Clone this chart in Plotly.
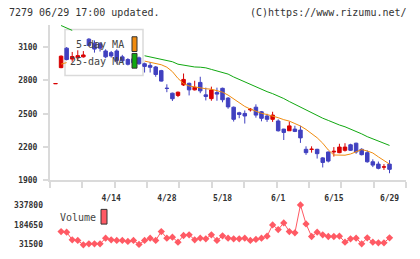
import plotly.graph_objects as go

# ---------------- data ----------------
dates = ["3/31", "4/1", "4/2", "4/3", "4/6", "4/7", "4/8", "4/9", "4/10", "4/13",
         "4/14", "4/15", "4/16", "4/17", "4/20", "4/21", "4/22", "4/23", "4/24", "4/27",
         "4/28", "4/30", "5/1", "5/7", "5/8", "5/11", "5/12", "5/13", "5/14", "5/15",
         "5/18", "5/19", "5/20", "5/21", "5/22", "5/25", "5/26", "5/27", "5/28", "5/29",
         "6/1", "6/2", "6/3", "6/4", "6/5", "6/8", "6/9", "6/10", "6/11", "6/12",
         "6/15", "6/16", "6/17", "6/18", "6/19", "6/22", "6/23", "6/24", "6/25", "6/26",
         "6/29"]

opens = [2770, 2915, 3090, 2992, 3003, 3012, 3171, 3135, 3130, 3065,
         3050, 3065, 3012, 2988, 2994, 3003, 2950, 2935, 2921, 2888,
         2730, 2685, 2665, 2759, 2774, 2715, 2782, 2670, 2636, 2691,
         2729, 2641, 2559, 2509, 2503, 2535, 2559, 2518, 2480, 2450,
         2435, 2362, 2347, 2362, 2353, 2180, 2179, 2180, 2103, 2156,
         2156, 2150, 2171, 2221, 2235, 2180, 2150, 2068, 2047, 2020,
         2047]
highs = [2772, 3025, 3100, 3056, 3071, 3064, 3180, 3160, 3145, 3080,
         3065, 3080, 3030, 3000, 3010, 3015, 2960, 2965, 2930, 2895,
         2765, 2690, 2700, 2862, 2780, 2797, 2833, 2735, 2744, 2735,
         2735, 2650, 2565, 2518, 2530, 2552, 2585, 2525, 2500, 2518,
         2450, 2365, 2430, 2392, 2392, 2207, 2207, 2185, 2110, 2160,
         2200, 2230, 2235, 2230, 2240, 2190, 2170, 2090, 2070, 2047,
         2083]
lows = [2770, 2910, 2980, 2968, 2983, 3005, 3105, 3050, 3060, 3000,
        3005, 2950, 2965, 2935, 2950, 2940, 2871, 2871, 2833, 2790,
        2694, 2615, 2650, 2750, 2665, 2710, 2685, 2620, 2617, 2617,
        2603, 2545, 2430, 2460, 2412, 2520, 2465, 2432, 2427, 2427,
        2340, 2264, 2345, 2335, 2238, 2130, 2150, 2097, 2017, 2062,
        2115, 2145, 2160, 2165, 2140, 2125, 2060, 2020, 2000, 1995,
        1965]
closes = [2772, 3018, 2988, 3015, 3023, 3029, 3115, 3082, 3090, 3012,
          3020, 2980, 2976, 2945, 2959, 2950, 2926, 2918, 2853, 2794,
          2728, 2635, 2694, 2809, 2715, 2738, 2706, 2656, 2714, 2677,
          2626, 2562, 2450, 2494, 2480, 2540, 2488, 2459, 2450, 2488,
          2347, 2332, 2391, 2341, 2283, 2150, 2181, 2141, 2062, 2074,
          2162, 2200, 2200, 2171, 2156, 2132, 2068, 2038, 2009, 2022,
          2000]

# moving averages (None where hidden behind the legend box)
ma5 = [None, 2947, 2960, None, None, None, None, None, None, None,
       None, None, None, None, None, None, 2974, 2963, 2952, 2941,
       2919, 2879, 2818, 2772, 2750, 2740, 2731, 2725, 2721, 2707,
       2694, 2668, 2632, 2602, 2566, 2542, 2522, 2504, 2493, 2482,
       2465, 2447, 2434, 2412, 2390, 2359, 2324, 2284, 2235, 2174,
       2129, 2127, 2127, 2138, 2160, 2178, 2165, 2147, 2112, 2081,
       2047]
ma25 = [None, 3294, 3272, 3250, None, None, None, None, None, None,
        None, None, None, None, None, None, 3022, 3012, 2999, 2990,
        2981, 2968, 2946, 2937, 2928, 2921, 2919, 2913, 2899, 2886,
        2871, 2857, 2831, 2809, 2782, 2760, 2740, 2721, 2699, 2681,
        2661, 2637, 2610, 2584, 2562, 2535, 2511, 2487, 2460, 2440,
        2418, 2399, 2383, 2363, 2341, 2319, 2294, 2275, 2253, 2235,
        2215]

volume = [None, 131900, 127000, 67500, 62400, 28900, 36600, 36600, 36600, 80400,
          67500, 62400, 62400, 54700, 62400, 31500, 62400, 80400, 62400, 131900,
          80400, 88100, 49500, 101000, 106100, 67500, 80400, 75300, 106100, 62400,
          98400, 80400, 75300, 75300, 80400, 62400, 70100, 80400, 95800, 183400,
          147300, 198800, 131900, 121600, 337800, 191100, 93300, 126700, 106100, 93300,
          93300, 95800, 49500, 75300, 80400, 36600, 83000, 49500, 44400, 44400,
          83000]

price_ticks = [1900, 2200, 2500, 2800, 3100]
volume_ticks = [31500, 184650, 337800]
date_labels = ["4/14", "4/28", "5/18", "6/1", "6/15", "6/29"]

# ---------------- styling ----------------
RED = "#d80000"
BLUE = "#4040c0"
ORANGE = "#f08c10"
GREEN = "#10a810"
VOLC = "#ff5a64"
AX = "#dadada"
W, H = 420, 259

idx = list(range(len(dates)))
tickvals = [dates.index(d) for d in date_labels]

x0, x1 = -0.99, 62.96
minor_ticks = [x0 + k * (x1 - x0) / 11 for k in range(12)]
xdom = [50 / W, 406 / W]

tfont = dict(family="DejaVu Sans Mono", size=8, color="#333333", weight="bold")

fig = go.Figure()
fig.add_trace(go.Scatter(x=idx, y=ma25, mode="lines", line=dict(color=GREEN, width=1),
                         connectgaps=False, hoverinfo="skip", showlegend=False))
fig.add_trace(go.Scatter(x=idx, y=ma5, mode="lines", line=dict(color=ORANGE, width=1),
                         connectgaps=False, hoverinfo="skip", showlegend=False))
fig.add_trace(go.Candlestick(
    x=idx, open=opens, high=highs, low=lows, close=closes,
    increasing=dict(line=dict(color=RED, width=1), fillcolor=RED),
    decreasing=dict(line=dict(color=BLUE, width=1), fillcolor=BLUE),
    whiskerwidth=0, showlegend=False))
fig.add_trace(go.Scatter(x=idx, y=volume, mode="lines+markers", xaxis="x2", yaxis="y2",
                         line=dict(color=VOLC, width=1),
                         marker=dict(symbol="diamond", size=5.6, color=VOLC),
                         showlegend=False))

fig.update_layout(
    width=W, height=259, margin=dict(l=0, r=0, t=0, b=0),
    paper_bgcolor="white", plot_bgcolor="white", showlegend=False, boxgap=0.1,
    xaxis=dict(domain=xdom, range=[x0, x1], anchor="y",
               tickmode="array", tickvals=tickvals, ticktext=date_labels,
               ticks="outside", ticklen=0, tickcolor=AX,
               showgrid=False, zeroline=False, showline=True, linecolor=AX, linewidth=2,
               rangeslider=dict(visible=False), tickfont=tfont, ticklabelstandoff=9,
               minor=dict(tickmode="array", tickvals=minor_ticks, ticks="outside",
                          ticklen=6, tickcolor=AX, tickwidth=2, showgrid=False)),
    yaxis=dict(domain=[1 - 184 / H, 1 - 25 / H], range=[1900, 3303], anchor="x",
               tickmode="array", tickvals=price_ticks, ticks="outside", ticklen=5,
               tickcolor=AX, tickwidth=2, showline=True, linecolor=AX, linewidth=2,
               showgrid=False, zeroline=False, tickfont=tfont, ticklabelstandoff=4),
    xaxis2=dict(domain=xdom, range=[x0, x1], anchor="y2", showticklabels=False,
                showline=False, showgrid=False, zeroline=False, ticks=""),
    yaxis2=dict(domain=[1 - 254 / H, 1 - 205 / H], range=[-4500, 368400], anchor="x2",
                tickmode="array", tickvals=volume_ticks,
                ticktext=[str(v) for v in volume_ticks], ticks="", showline=False,
                showgrid=False, zeroline=False, tickfont=tfont, ticklabelstandoff=6),
)

hfont = dict(family="DejaVu Sans Mono", size=10, color="#333333")
lfont = dict(family="DejaVu Sans Mono", size=10, color="#444444")
anns = [
    dict(text="7279 06/29 17:00 updated.", x=7 / W, y=1 - 13 / H, xanchor="left", yanchor="middle", font=hfont),
    dict(text="(C)https://www.rizumu.net/", x=409 / W, y=1 - 13 / H, xanchor="right", yanchor="middle", font=hfont),
    dict(text="5-day MA", x=126 / W, y=1 - 45 / H, xanchor="right", yanchor="middle", font=lfont),
    dict(text="25-day MA", x=126 / W, y=1 - 63 / H, xanchor="right", yanchor="middle", font=lfont),
    dict(text="Volume", x=58 / W, y=1 - 222 / H, xanchor="left", yanchor="middle", font=lfont),
]
for a in anns:
    a.update(xref="paper", yref="paper", showarrow=False)
fig.update_layout(annotations=anns)

def prect(xa, xb, ya, yb, **kw):
    return dict(type="rect", xref="paper", yref="paper",
                x0=xa / W, x1=xb / W, y0=1 - yb / H, y1=1 - ya / H, **kw)

fig.update_layout(shapes=[
    prect(65, 143, 30, 77, line=dict(color=AX, width=1.5), fillcolor="rgba(0,0,0,0)", layer="below"),
    prect(132, 137, 37.5, 52.5, line=dict(color="#333333", width=1), fillcolor=ORANGE, layer="above"),
    prect(132, 137, 54.5, 69.5, line=dict(color="#333333", width=1), fillcolor=GREEN, layer="above"),
    prect(101, 107, 213.5, 228.5, line=dict(color="#333333", width=1), fillcolor=VOLC, layer="above"),
])

fig.write_html("out.html")
